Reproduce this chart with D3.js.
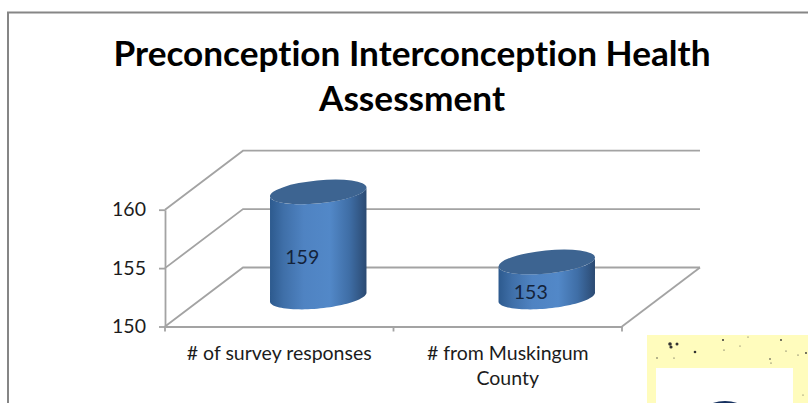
<!DOCTYPE html>
<html><head><meta charset="utf-8">
<script src="https://cdn.jsdelivr.net/npm/d3@7"></script>
<style>html,body{margin:0;padding:0;background:#fff;overflow:hidden}svg{display:block}text{font-family:Lato,Carlito,"Open Sans",sans-serif;font-variant-ligatures:none}</style>
</head><body><svg id="c" width="808" height="403"></svg>
<script>
const categories = [["# of survey responses"], ["# from Muskingum", "County"]];
const responses = [159, 153];
const valueLabels = ["159", "153"];
const yTicks = [150, 155, 160];
const titleLines = ["Preconception Interconception Health", "Assessment"];

const svg = d3.select("#c");
const grey = "#a3a3a3";
const W = 808, H = 403;
const depthX = 78, depthY = 59;
const plotLeft = 165, plotRight = 622, plotBottom = 326.5, plotTop = 209.7;

const x = d3.scaleBand().domain(d3.range(categories.length)).range([plotLeft, plotRight]);
const y = d3.scaleLinear().domain([150, 160]).range([plotBottom, plotTop]);

const defs = svg.append("defs");
const g = defs.append("linearGradient").attr("id", "cyl").attr("x1", 0).attr("x2", 1).attr("y1", 0).attr("y2", 0);
[[0, "#2d5a8e"], [0.14, "#3f6fa8"], [0.35, "#4f83c2"], [0.62, "#5288c8"], [0.82, "#3f6ea6"], [1, "#2b4a72"]]
  .forEach(s => g.append("stop").attr("offset", s[0]).attr("stop-color", s[1]));

// chart frame
svg.append("path").attr("d", `M8,${H}V12.5H${W}`).attr("fill", "none").attr("stroke", "#868686").attr("stroke-width", 2);

// walls and floor
const grid = svg.append("g").attr("fill", "none").attr("stroke", grey).attr("stroke-width", 1.8);
yTicks.forEach(t => {
  grid.append("path").attr("d", d3.line()([[plotLeft, y(t)], [plotLeft + depthX, y(t) - depthY], [plotRight + depthX, y(t) - depthY]]));
});
grid.append("path").attr("d", d3.line()([[plotRight, plotBottom], [plotRight + depthX, plotBottom - depthY]]));

// axes
const yAxis = svg.append("g").attr("transform", `translate(${plotLeft},0)`)
  .call(d3.axisLeft(y).tickValues(yTicks).tickSize(6).tickSizeOuter(0).tickPadding(13));
const xAxis = svg.append("g").attr("transform", `translate(0,${plotBottom})`)
  .call(d3.axisBottom(x).tickValues([]).tickSizeOuter(0));
xAxis.selectAll(".b").data(x.domain().concat([categories.length])).enter().append("line").attr("class", "b")
  .attr("x1", i => plotLeft + i * x.step()).attr("x2", i => plotLeft + i * x.step()).attr("y1", 0).attr("y2", 5)
  .attr("stroke", grey).attr("stroke-width", 1.8);
[yAxis, xAxis].forEach(a => a.selectAll(".domain").attr("stroke", grey).attr("stroke-width", 1.8));
yAxis.selectAll(".tick line").attr("stroke", grey).attr("stroke-width", 1.8);
yAxis.selectAll("text").attr("font-size", 19.5).attr("fill", "#1c1c1c").style("font-family", "Lato");

// cylinders
const rx = 48.5, ry = 11.5, tilt = -5.6, baseY = plotBottom - depthY / 2;
const rad = tilt * Math.PI / 180;
const rim = (cx, cy, t) => [
  cx + rx * Math.cos(t) * Math.cos(rad) - ry * Math.sin(t) * Math.sin(rad),
  cy + rx * Math.cos(t) * Math.sin(rad) + ry * Math.sin(t) * Math.cos(rad)
];
// rim angles where the silhouette of the tilted ellipse meets the vertical sides
const side = Math.atan2(-ry * Math.sin(rad), rx * Math.cos(rad));
const sweep = d3.range(0, 49).map(k => Math.PI - side - (k / 48) * Math.PI);
const heightOf = d => plotBottom - y(d);
const centerX = i => x(i) + x.bandwidth() / 2 + depthX / 2;
const bars = svg.append("g").selectAll("g").data(responses).enter().append("g");
bars.append("path").attr("fill", "url(#cyl)").attr("d", (d, i) => {
  const cx = centerX(i);
  const lower = sweep.map(t => rim(cx, baseY, t));
  const upper = sweep.map(t => rim(cx, baseY - heightOf(d), t)).reverse();
  return d3.line()(lower.concat(upper)) + "Z";
});
bars.append("ellipse").attr("fill", "#3d6491")
  .attr("rx", rx).attr("ry", ry)
  .attr("transform", (d, i) => `translate(${centerX(i)},${baseY - heightOf(d)}) rotate(${tilt})`);
bars.append("text").text((d, i) => valueLabels[i])
  .attr("x", (d, i) => x(i) + x.bandwidth() / 2 + 23)
  .attr("y", d => baseY - heightOf(d) / 2 + 19.5)
  .attr("text-anchor", "middle").attr("font-size", 19.5).attr("fill", "#14233a");

// category labels
categories.forEach((lines, i) => {
  lines.forEach((l, j) => {
    svg.append("text").text(l).attr("x", x(i) + x.bandwidth() / 2).attr("y", 359.5 + j * 25)
      .attr("text-anchor", "middle").attr("font-size", 19.5).attr("fill", "#1c1c1c");
  });
});

// title
titleLines.forEach((l, j) => {
  svg.append("text").text(l).attr("x", 412).attr("y", 65.5 + j * 45)
    .attr("text-anchor", "middle").attr("font-size", 35.2).attr("font-weight", 700).attr("fill", "#000");
});

// pasted image fragment at bottom right
svg.append("rect").attr("x", 647).attr("y", 335).attr("width", 161).attr("height", 68).attr("fill", "#fffcbd");
svg.append("rect").attr("x", 656).attr("y", 368).attr("width", 137).attr("height", 35).attr("fill", "#fff");
svg.append("ellipse").attr("cx", 725).attr("cy", 407).attr("rx", 16).attr("ry", 6).attr("fill", "#15305f");
const specks = [[670,344,1.8],[671,347,1.6],[677,344,1.5],[695,352,1.3],[723,340,1],[781,340,.9],[806,353,.9],[770,359,.8],[657,358,.7],[674,358,.6],[740,346,.5],[724,350,.6],[786,351,.6],[798,355,.6],[771,363,.6],[803,395,.5],[748,337,.5]];
svg.append("g").selectAll("circle").data(specks).enter().append("circle")
  .attr("cx", d => d[0]).attr("cy", d => d[1]).attr("r", d => d[2]).attr("fill", "#333");
</script></body></html>
